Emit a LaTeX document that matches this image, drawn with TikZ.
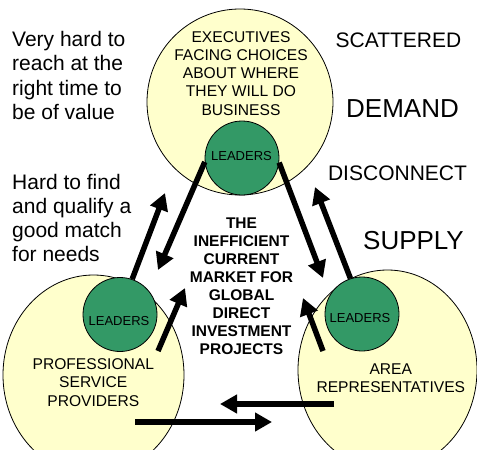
\documentclass[tikz,border=0pt]{standalone}
\usepackage{fontspec}
\setmainfont{Liberation Sans}
\usetikzlibrary{arrows.meta}
\usetikzlibrary{shapes.geometric}
\definecolor{pale}{RGB}{255,255,204}
\definecolor{lead}{RGB}{51,153,102}

\begin{document}
\begin{tikzpicture}[
      x=1pt, y=-1pt,
      every node/.style={inner sep=0pt},
      market/.style={draw, line width=.8pt, fill=pale},
      leaders/.style={circle, draw, line width=.8pt, fill=lead, minimum size=74pt},
      push/.style={line width=5.5pt, -{Triangle[length=17pt,width=18pt]}},
      incircle/.style={align=center, anchor=base, font=\fontsize{15.6}{18.2}\selectfont},
      side/.style={align=left, anchor=base west, font=\fontsize{21}{24.2}\selectfont},
      big/.style={anchor=base, font=\fontsize{26}{30}\selectfont}]

        \useasboundingbox (0,0) rectangle (477,450);

        % the three groups
        \node[market, circle, minimum size=186pt] (exec) at (240,102) {};
        \node[market, ellipse, minimum width=181pt, minimum height=200pt] (psp) at (93.5,375) {};
        \node[market, ellipse, minimum width=179pt, minimum height=200pt] (area) at (387.5,370) {};

        \node[leaders] (leadexec) at (242,158) {};
        \node[leaders] (leadpsp) at (120,314.5) {};
        \node[leaders] (leadarea) at (362,314) {};

        {\fontsize{13}{15}\selectfont
        \node[anchor=base] (lexec) at (241.5,160.3) {LEADERS};
        \node[anchor=base] (lpsp) at (119,325.7) {LEADERS};
        \node[anchor=base] (larea) at (360,322.7) {LEADERS};
        }

        % last lines sit on the given baselines
        \node[incircle] (execs) at (241,115)
          {EXECUTIVES\\FACING CHOICES\\ABOUT WHERE\\THEY WILL DO\\BUSINESS};
        \node[incircle] (provs) at (93.3,406)
          {PROFESSIONAL\\SERVICE\\PROVIDERS};
        \node[incircle] (reps) at (390.8,392.7)
          {AREA\\REPRESENTATIVES};

        \node[incircle, font=\fontsize{15.5}{18}\bfseries] (market) at (241.5,354)
          {THE\\INEFFICIENT\\CURRENT\\MARKET FOR\\GLOBAL\\DIRECT\\INVESTMENT\\PROJECTS};

        % remarks
        \node[side] (reach) at (12,119.3)
          {Very hard to\\reach at the\\right time to\\be of value};
        \node[side] (match) at (12,261.7)
          {Hard to find\\and qualify a\\good match\\for needs};

        {\fontsize{21}{24}\selectfont
        \node[anchor=base] (scat) at (398.5,47) {SCATTERED};
        \node[anchor=base] (disc) at (397.5,180) {DISCONNECT};
        }
        \node[big] (demand) at (402.5,117) {DEMAND};
        \node[big] (supply) at (413.5,249) {SUPPLY};

        % free ends
        \coordinate (toexec1) at (165,193);
        \coordinate (topsp) at (158,270);
        \coordinate (toarea) at (323,278);
        \coordinate (toexec2) at (315,187);
        \coordinate (frompsp) at (158,351);
        \coordinate (mid1) at (185,288);
        \coordinate (fromarea) at (323,351);
        \coordinate (mid2) at (303,298);
        \coordinate (arealeft) at (334,404);
        \coordinate (tip1) at (220,404);
        \coordinate (pspright) at (135,422);
        \coordinate (tip2) at (272,422);

        \draw[push] (leadpsp.71) -- (toexec1);
        \draw[push] (leadexec.186) -- (topsp);
        \draw[push] (leadexec.353) -- (toarea);
        \draw[push] (leadarea.108) -- (toexec2);
        \draw[push] (frompsp) -- (mid1);
        \draw[push] (fromarea) -- (mid2);
        \draw[push] (arealeft) -- (tip1);
        \draw[push] (pspright) -- (tip2);

      \end{tikzpicture}
\end{document}
